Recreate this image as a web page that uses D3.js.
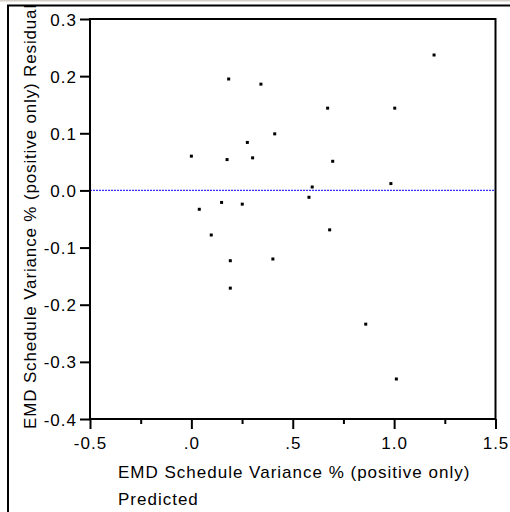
<!DOCTYPE html>
<meta charset="utf-8">
<script src="https://cdn.jsdelivr.net/npm/d3@7"></script>
<style>
    body { margin: 0; background: #fff; }
    svg text {
        font-family: Arial, "Liberation Sans", sans-serif;
        font-size: 17px;
        letter-spacing: 1px;
        fill: #000;
    }
    .axis .domain { display: none; }
    .axis line { stroke: #000; stroke-width: 2px; }
</style>
<svg width="510" height="512"></svg>
<script>

    // residuals vs predicted
    var predicted = [0.0, 0.039, 0.098, 0.149, 0.184, 0.176, 0.192, 0.192, 0.251, 0.276, 0.302, 0.343,
        0.411, 0.402, 0.580, 0.596, 0.672, 0.697, 0.682, 0.984, 1.003, 1.197, 0.860, 1.011];
    var residual = [0.060, -0.033, -0.078, -0.021, 0.195, 0.054, -0.123, -0.171, -0.024, 0.084, 0.057, 0.186,
        0.099, -0.120, -0.012, 0.006, 0.144, 0.051, -0.069, 0.012, 0.144, 0.237, -0.234, -0.330];

    var xTicks = [-0.5, 0, 0.5, 1.0, 1.5];
    var xTickLabels = ["-0.5", ".0", ".5", "1.0", "1.5"];
    var xMinorTicks = [-0.25, 0.25, 0.75, 1.25];
    var yTicks = [0.3, 0.2, 0.1, 0.0, -0.1, -0.2, -0.3, -0.4];
    var yTickLabels = ["0.3", "0.2", "0.1", "0.0", "-0.1", "-0.2", "-0.3", "-0.4"];

    var xTitle = "EMD Schedule Variance % (positive only)";
    var xTitle2 = "Predicted";
    var yTitle = "EMD Schedule Variance % (positive only) Residual";

    var svg = d3.select("svg"),
        margin = {top: 19, right: 14.5, bottom: 93, left: 90},
        width = +svg.attr("width") - margin.left - margin.right,
        height = +svg.attr("height") - margin.top - margin.bottom;

    // window-ish frame around the report
    svg.append("line").attr("x1", 0).attr("x2", 510).attr("y1", 0.5).attr("y2", 0.5)
        .attr("stroke", "#d4d0c8").attr("stroke-width", 2);
    svg.append("line").attr("x1", 7).attr("x2", 510).attr("y1", 5.5).attr("y2", 5.5)
        .attr("stroke", "#000").attr("stroke-width", 2);
    svg.append("line").attr("x1", 8).attr("x2", 8).attr("y1", 5).attr("y2", 512)
        .attr("stroke", "#000").attr("stroke-width", 2);

    var x = d3.scaleLinear().domain([-0.5, 1.5]).range([0, width]);
    var y = d3.scaleLinear().domain([-0.4, 0.3]).range([height, 0]);

    var g = svg.append("g").attr("transform", "translate(" + margin.left + "," + margin.top + ")");

    // y axis
    g.append("g").attr("class", "axis")
        .call(d3.axisLeft(y).tickValues(yTicks).tickSize(10).tickPadding(3)
            .tickFormat(function (d, i) { return yTickLabels[i]; }))
        .selectAll("text").attr("dy", "0.36em");

    // x axis, major + minor
    g.append("g").attr("class", "axis")
        .attr("transform", "translate(0," + height + ")")
        .call(d3.axisBottom(x).tickValues(xTicks).tickSize(10).tickPadding(8)
            .tickFormat(function (d, i) { return xTickLabels[i]; }));
    g.append("g").attr("class", "axis")
        .attr("transform", "translate(0," + height + ")")
        .call(d3.axisBottom(x).tickValues(xMinorTicks).tickSize(5).tickFormat(""));

    // zero reference line
    g.append("line")
        .attr("x1", 0).attr("x2", width)
        .attr("y1", y(0)).attr("y2", y(0))
        .attr("stroke", "#3030ff").attr("stroke-width", 1.3)
        .attr("stroke-dasharray", "2,1");

    // frame
    g.append("rect")
        .attr("width", width).attr("height", height)
        .attr("fill", "none").attr("stroke", "#000").attr("stroke-width", 2);

    // points
    g.selectAll(".pt")
        .data(predicted)
        .enter().append("rect")
        .attr("class", "pt")
        .attr("x", function (d) { return x(d) - 1.5; })
        .attr("y", function (d, i) { return y(residual[i]) - 1.5; })
        .attr("width", 3).attr("height", 3)
        .attr("fill", "#000");

    // titles
    svg.append("text").attr("x", 118).attr("y", 478).text(xTitle);
    svg.append("text").attr("x", 118).attr("y", 505).text(xTitle2);
    svg.append("text")
        .attr("transform", "translate(36,429) rotate(-90)")
        .style("letter-spacing", "0.85px")
        .text(yTitle);

</script>
